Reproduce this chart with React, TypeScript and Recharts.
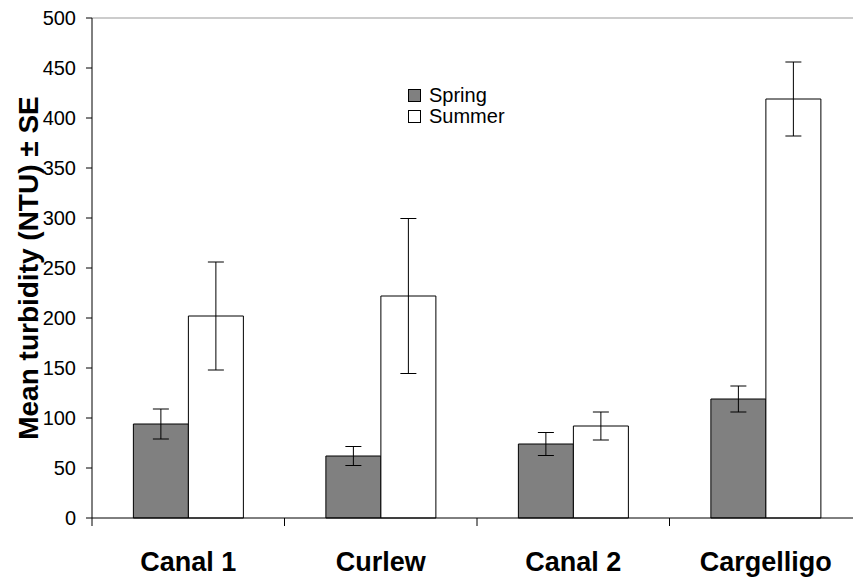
import {
  Bar,
  BarChart,
  ErrorBar,
  Legend,
  ReferenceLine,
  XAxis,
  YAxis,
} from "recharts";

const sites = ["Canal 1", "Curlew", "Canal 2", "Cargelligo"];
const spring = [94, 62, 74, 119];
const springSe = [15, 9.5, 11.5, 13];
const summer = [202, 222, 92, 419];
const summerSe = [54, 77.5, 14, 37];
const yTicks = [0, 50, 100, 150, 200, 250, 300, 350, 400, 450, 500];

const datos = sites.map((site, i) => ({
  site,
  spring: spring[i],
  springSe: springSe[i],
  summer: summer[i],
  summerSe: summerSe[i],
}));

const fuente = "'Liberation Sans', Arial, sans-serif";

// etiqueta de categoría + marcas de división en los bordes de cada banda
function TickSitio(props: any) {
  const { x, y, payload, index } = props;
  const mitad = payload?.offset ?? 0;
  return (
    <g>
      <line x1={x - mitad} x2={x - mitad} y1={y} y2={y + 8} stroke="#000" />
      {index === sites.length - 1 && (
        <line x1={x + mitad} x2={x + mitad} y1={y} y2={y + 8} stroke="#000" />
      )}
      <text
        x={x}
        y={y + 53}
        textAnchor="middle"
        fill="#000"
        fontFamily={fuente}
        fontSize={27}
        fontWeight="bold"
      >
        {payload.value}
      </text>
    </g>
  );
}

function Leyenda() {
  const items = [
    { label: "Spring", fill: "#808080" },
    { label: "Summer", fill: "#ffffff" },
  ];
  return (
    <div style={{ fontFamily: fuente, fontSize: 20, color: "#000", lineHeight: "21px" }}>
      {items.map((it) => (
        <div key={it.label} style={{ display: "flex", alignItems: "center", height: 21 }}>
          <span
            style={{
              display: "inline-block",
              width: 11,
              height: 11,
              background: it.fill,
              border: "1px solid #000",
              marginRight: 8,
            }}
          />
          {it.label}
        </div>
      ))}
    </div>
  );
}

export default function App() {
  return (
    <div
      style={{
        position: "absolute",
        left: 0,
        top: 0,
        width: 853,
        height: 578,
        overflow: "hidden",
        background: "#fff",
      }}
    >
      <BarChart
        width={870}
        height={578}
        data={datos}
        margin={{ top: 18, right: 8, left: 0, bottom: 0 }}
        barCategoryGap="21.5%"
        barGap={0}
      >
        <ReferenceLine y={500} stroke="#999" strokeWidth={1} />
        <XAxis
          dataKey="site"
          tickLine={false}
          axisLine={{ stroke: "#000" }}
          tickSize={0}
          tickMargin={0}
          height={60}
          interval={0}
          tick={<TickSitio />}
        />
        <YAxis
          domain={[0, 500]}
          ticks={yTicks}
          width={92}
          tickSize={6}
          tickMargin={10}
          axisLine={{ stroke: "#000" }}
          tickLine={{ stroke: "#000" }}
          tick={{ fill: "#000", fontFamily: fuente, fontSize: 20 }}
          label={{
            value: "Mean turbidity (NTU) ± SE",
            angle: -90,
            position: "center",
            dx: -18,
            style: { fill: "#000", fontFamily: fuente, fontSize: 28, fontWeight: "bold" },
          }}
        />
        <Legend
          content={<Leyenda />}
          layout="vertical"
          verticalAlign="middle"
          align="center"
          wrapperStyle={{ left: 408, top: 85, width: 120 }}
        />
        <Bar dataKey="spring" fill="#808080" stroke="#000" strokeWidth={1} isAnimationActive={false}>
          <ErrorBar dataKey="springSe" direction="y" width={8} stroke="#000" strokeWidth={1} />
        </Bar>
        <Bar dataKey="summer" fill="#ffffff" stroke="#000" strokeWidth={1} isAnimationActive={false}>
          <ErrorBar dataKey="summerSe" direction="y" width={8} stroke="#000" strokeWidth={1} />
        </Bar>
      </BarChart>
    </div>
  );
}
